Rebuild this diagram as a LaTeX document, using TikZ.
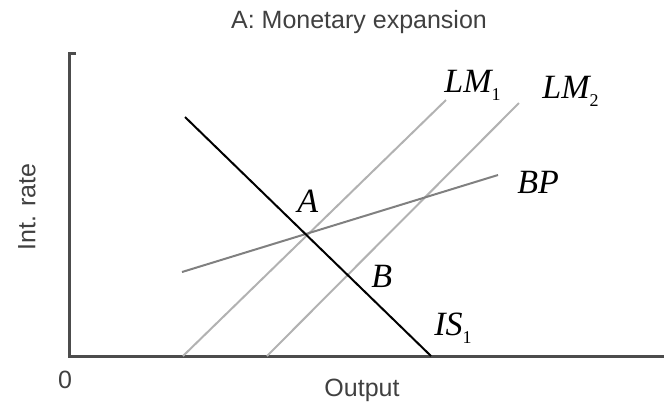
\documentclass[tikz,border=0pt]{standalone}
\usepackage{fontspec}
\setmainfont{Liberation Serif}
\setsansfont{Liberation Sans}
\newcommand{\lowsub}[1]{\raisebox{-4pt}{\upshape\fontsize{9}{9}\selectfont #1}}
\begin{document}
\begin{tikzpicture}[x=0.5pt,y=-0.5pt,
  axis/.style={draw=black!70,line width=1.5pt},
  lmline/.style={draw=black!30,line width=1pt},
  bpline/.style={draw=black!50,line width=1pt},
  isline/.style={draw=black,line width=1pt},
  lbl/.style={font=\fontsize{17}{19}\selectfont\itshape,inner sep=0pt},
  txt/.style={font=\sffamily\fontsize{12.5}{14}\selectfont,text=black!75,inner sep=0pt}]
\useasboundingbox (0,0) rectangle (664,409);
% axes
\coordinate (top) at (69,53);
\coordinate (tick) at (76,53);
\coordinate (origin) at (69,356);
\coordinate (xend) at (664,356);
\draw[axis] (tick) -- (top) -- (origin) -- (xend);
% curves
\coordinate (lm1a) at (183,356);
\coordinate (lm1b) at (446,100);
\coordinate (lm2a) at (267,356);
\coordinate (lm2b) at (519,103);
\coordinate (bpa) at (182,272);
\coordinate (bpb) at (498,175);
\coordinate (isa) at (185,117);
\coordinate (isb) at (431,356);
\draw[lmline] (lm1a) -- (lm1b);
\draw[lmline] (lm2a) -- (lm2b);
\draw[bpline] (bpa) -- (bpb);
\draw[isline] (isa) -- (isb);
% labels
\node[lbl,anchor=base west] (LM1) at (444,92) {LM\lowsub{1}};
\node[lbl,anchor=base west] (LM2) at (542,98) {LM\lowsub{2}};
\node[lbl,anchor=base west] (BP) at (517,193) {BP};
\node[lbl,anchor=base west] (A) at (297,212) {A};
\node[lbl,anchor=base west] (B) at (371,287) {B};
\node[lbl,anchor=base west] (IS1) at (434,335) {IS\lowsub{1}};
\node[txt] (title) at (359,22) {A: Monetary expansion};
\node[txt] (zero) at (65,380) {0};
\node[txt] (xlab) at (362,390) {Output};
\node[txt,rotate=90] (ylab) at (27,207) {Int. rate};
\end{tikzpicture}
\end{document}
